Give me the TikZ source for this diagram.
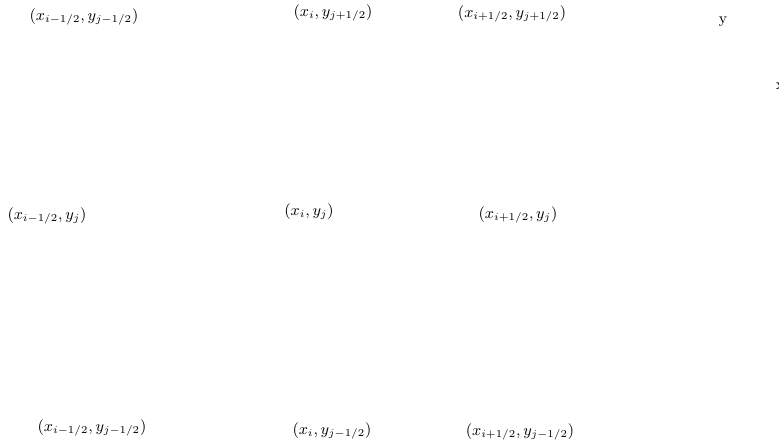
\documentclass[tikz,border=0pt]{standalone}
\usepackage{amsmath,amssymb}
\usepackage{tikz}
\usetikzlibrary{positioning}
\tikzset{
  pt/.style  ={inner sep=1pt, font=\fontsize{8.7pt}{10pt}\selectfont},
  axl/.style ={inner sep=1pt, font=\fontsize{8.7pt}{10pt}\selectfont},
}

\begin{document}
\begin{tikzpicture}[x=0.5714pt, y=-0.5714pt]
        \useasboundingbox (0,0) rectangle (779,445);
        % top row
        \node[pt] (tl) at (84,17){$(x_{i-1/2},y_{j-1/2})$};
        \node[pt] (tc) at (333,13){$(x_i,y_{j+1/2})$};
        \node[pt] (tr) at (512,14){$(x_{i+1/2},y_{j+1/2})$};
        % middle row
        \node[pt] (ml) at (47,216){$(x_{i-1/2},y_j)$};
        \node[pt] (mc) at (309,212){$(x_i,y_j)$};
        \node[pt] (mr) at (518,215){$(x_{i+1/2},y_j)$};
        % bottom row
        \node[pt] (bl) at (92,428){$(x_{i-1/2},y_{j-1/2})$};
        \node[pt] (bc) at (332,431){$(x_i,y_{j-1/2})$};
        \node[pt] (br) at (520,432){$(x_{i+1/2},y_{j-1/2})$};
        % axes
        \node[axl] (ay) at (723,22){y};
        \node[axl] (ax) at (780,86){x};
      \end{tikzpicture}
\end{document}
